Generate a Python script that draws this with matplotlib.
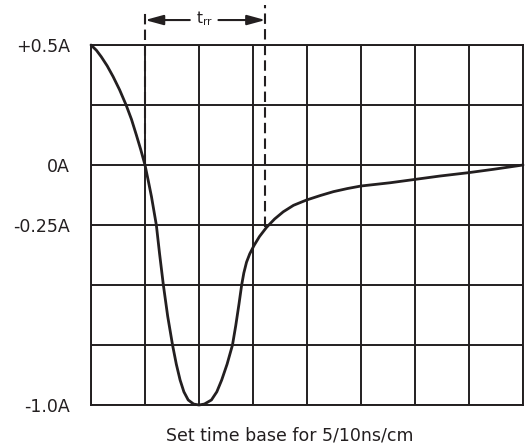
import matplotlib
matplotlib.use('Agg')
import matplotlib.pyplot as plt

# trace: x in divisions, y in amps
t_div = [0.0, 0.10, 0.19, 0.30, 0.41, 0.53, 0.65, 0.75, 0.84, 0.92, 1.0,
         1.06, 1.12, 1.21, 1.27, 1.34, 1.42, 1.51, 1.58, 1.65, 1.72, 1.80, 1.90,
         2.0, 2.10, 2.23, 2.33, 2.42, 2.52, 2.62, 2.68, 2.74, 2.79, 2.83, 2.88,
         2.94, 3.02, 3.12, 3.25, 3.40, 3.56, 3.75, 3.99, 4.25, 4.49, 4.75,
         5.0, 5.54, 6.0, 6.46, 6.99, 7.45, 8.0]
current = [0.5, 0.478, 0.451, 0.413, 0.368, 0.313, 0.25, 0.19, 0.125, 0.065, 0.0,
           -0.065, -0.132, -0.25, -0.37, -0.5, -0.63, -0.75, -0.83, -0.896, -0.945, -0.979, -0.996,
           -1.0, -0.996, -0.979, -0.945, -0.896, -0.83, -0.75, -0.67, -0.58, -0.50, -0.45, -0.405,
           -0.37, -0.335, -0.298, -0.26, -0.225, -0.195, -0.168, -0.146, -0.127, -0.111, -0.098,
           -0.0875, -0.074, -0.060, -0.046, -0.032, -0.018, 0.0]

y_ticks = [0.5, 0.25, 0.0, -0.25, -0.5, -0.75, -1.0]
y_labels = ['+0.5A', '', '0A', '-0.25A', '', '', '-1.0A']
x_ticks = list(range(9))

trr_start = 1.0      # zero crossing
trr_end = 3.23       # back to -0.25A

ink = '#231f20'

fig = plt.figure(figsize=(5.26, 4.48), dpi=100)
ax = fig.add_axes([91 / 526, 1 - 405 / 448, 432 / 526, 360 / 448])

ax.set_xlim(0, 8)
ax.set_ylim(-1.0, 0.5)
ax.set_xticks(x_ticks)
ax.set_xticklabels([])
ax.set_yticks(y_ticks)
ax.set_yticklabels(y_labels, fontsize=12.5, family='DejaVu Sans', color=ink)
ax.tick_params(length=0, pad=15)
ax.grid(True, color=ink, lw=1.4)
for s in ax.spines.values():
    s.set_color(ink)
    s.set_linewidth(1.4)

ax.plot(t_div, current, color=ink, lw=2.0, clip_on=False, zorder=5,
        solid_capstyle='round', solid_joinstyle='round')

# dashed markers for trr
ax.plot([trr_start, trr_start], [0.0, 0.6375], color=ink, lw=1.5, ls=(0, (5, 2.5)),
        clip_on=False, zorder=4)
ax.plot([trr_end, trr_end], [-0.26, 0.667], color=ink, lw=1.5, ls=(0, (5, 2.5)),
        clip_on=False, zorder=4)

arrow_y = 0.604
ax.annotate('', xy=(trr_start, arrow_y), xytext=(1.83, arrow_y), annotation_clip=False,
            arrowprops=dict(arrowstyle='-|>,head_length=1.1,head_width=0.3', color=ink, lw=1.5,
                            shrinkA=0, shrinkB=0))
ax.annotate('', xy=(trr_end, arrow_y), xytext=(2.36, arrow_y), annotation_clip=False,
            arrowprops=dict(arrowstyle='-|>,head_length=1.1,head_width=0.3', color=ink, lw=1.5,
                            shrinkA=0, shrinkB=0))
ax.text(2.1, arrow_y + 0.005, r'$\mathregular{t_{rr}}$', fontsize=11, family='DejaVu Sans',
        color=ink, ha='center', va='center')

fig.text(290 / 526, 1 - 435 / 448, 'Set time base for 5/10ns/cm', fontsize=12.5,
         family='DejaVu Sans', color=ink, ha='center', va='center')

fig.savefig('out.png', dpi=100, facecolor='white')
